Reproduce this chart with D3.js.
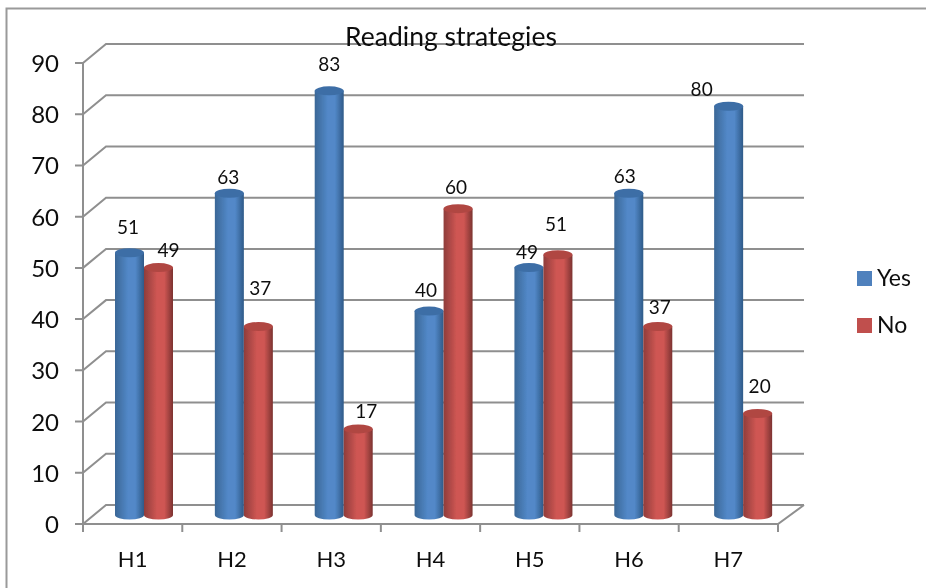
<!DOCTYPE html>
<html>
<head>
<meta charset="utf-8">
<script src="https://cdn.jsdelivr.net/npm/d3@7"></script>
<style>
    html, body { margin: 0; padding: 0; background: #fff; }
    svg { display: block; }
    text { font-family: Lato, "Open Sans", sans-serif; fill: #111; }
</style>
</head>
<body>
<div id="chart"></div>
<script>
'use strict';

var categories = ['H1', 'H2', 'H3', 'H4', 'H5', 'H6', 'H7'];
// printed labels
var yesLabels = [51, 63, 83, 40, 49, 63, 80];
var noLabels = [49, 37, 17, 60, 51, 37, 20];
// bar heights, the 49s sit a little lower than printed
var yesValues = [51.4, 63, 83, 40, 48.5, 63, 80];
var noValues = [48.5, 37, 17, 60, 51, 37, 20];
var yTicks = [0, 10, 20, 30, 40, 50, 60, 70, 80, 90];

// hand placed labels in the original, so nudge each one from its bar top
var yesLabelNudge = [[-1.5, -25], [-1, -15], [0, -26], [-3, -20], [-2, -15], [-4, -16], [-27, -16]];
var noLabelNudge = [[10, -17], [2, -37], [8, -17], [-2, -21], [-2, -30], [2, -18], [2, -27]];

var width = 926;
var height = 588;
var depthX = 23;
var depthY = 19;
var barWidth = 29;
var ry = 4.5;

var svg = d3.select('#chart')
    .append('svg')
    .attr('width', width)
    .attr('height', height);

var defs = svg.append('defs');
addGradient('yesGrad', '#3a6796', '#5288c8', '#2f5a88');
addGradient('noGrad', '#8f3d3b', '#cf5653', '#7c3331');

defs.append('filter')
    .attr('id', 'soft')
    .append('feGaussianBlur')
    .attr('stdDeviation', 0.4);

function addGradient(id, edge, mid, dark) {
    var g = defs.append('linearGradient').attr('id', id);
    g.append('stop').attr('offset', '0%').attr('stop-color', edge);
    g.append('stop').attr('offset', '45%').attr('stop-color', mid);
    g.append('stop').attr('offset', '70%').attr('stop-color', mid);
    g.append('stop').attr('offset', '100%').attr('stop-color', dark);
}

var x = d3.scaleBand().domain(categories).range([83, 778]);
// bars run on a slightly wider step than the axis ticks
var xBars = d3.scaleBand().domain(categories).range([83, 782]);
var y = d3.scaleLinear().domain([0, 90]).range([524, 63]);

var root = svg.append('g').attr('filter', 'url(#soft)');

// outer frame, only top and left show in the crop
root.append('path')
    .attr('d', 'M6.5,588V8.5H926')
    .attr('fill', 'none')
    .attr('stroke', '#9a9a9a')
    .attr('stroke-width', 2);

var gridColor = '#8f8f8f';
var grid = root.append('g')
    .attr('fill', 'none')
    .attr('stroke', gridColor)
    .attr('stroke-width', 2);

grid.selectAll('.wall')
    .data(yTicks)
    .enter()
    .append('path')
    .attr('class', 'wall')
    .attr('d', function(d) {
        return 'M75,' + y(d) + 'H83L' + (83 + depthX) + ',' + (y(d) - depthY) + 'H804';
    });

// y axis and floor
grid.append('path').attr('d', 'M83,' + y(90) + 'V' + y(0) + 'H778L804,' + (y(0) - depthY));

grid.selectAll('.tick')
    .data(categories.concat(['end']))
    .enter()
    .append('path')
    .attr('class', 'tick')
    .attr('d', function(d, i) {
        var px = 83 + i * x.bandwidth();
        return 'M' + px + ',' + y(0) + 'V' + (y(0) + 8);
    });

root.selectAll('.ylabel')
    .data(yTicks)
    .enter()
    .append('text')
    .attr('class', 'ylabel')
    .attr('x', 59)
    .attr('y', function(d) { return y(d) + 9; })
    .attr('text-anchor', 'end')
    .attr('font-size', 24)
    .text(function(d) { return d; });

root.selectAll('.xlabel')
    .data(categories)
    .enter()
    .append('text')
    .attr('class', 'xlabel')
    .attr('x', function(d) { return x(d) + x.bandwidth() / 2; })
    .attr('y', 567)
    .attr('text-anchor', 'middle')
    .attr('font-size', 22)
    .text(function(d) { return d; });

root.append('text')
    .attr('x', 451)
    .attr('y', 46)
    .attr('text-anchor', 'middle')
    .attr('font-size', 26.5)
    .text('Reading strategies');

drawSeries(yesValues, yesLabels, 0, 'yesGrad', '#3d6ea6', yesLabelNudge);
drawSeries(noValues, noLabels, 1, 'noGrad', '#b04643', noLabelNudge);

function drawSeries(values, labels, offset, grad, topColor, nudge) {
    var bars = root.selectAll('.bar' + offset)
        .data(values)
        .enter()
        .append('g')
        .attr('class', 'bar' + offset);

    function left(i) { return xBars(categories[i]) + 32 + offset * barWidth; }
    var baseY = y(0) - 9;
    function topY(d) { return y(d) - 8; }

    bars.append('path')
        .attr('fill', 'url(#' + grad + ')')
        .attr('d', function(d, i) {
            var r = barWidth / 2;
            return 'M' + left(i) + ',' + topY(d) +
                'V' + baseY +
                'A' + r + ',' + ry + ' 0 0 0 ' + (left(i) + barWidth) + ',' + baseY +
                'V' + topY(d) + 'Z';
        });

    bars.append('ellipse')
        .attr('cx', function(d, i) { return left(i) + barWidth / 2; })
        .attr('cy', function(d) { return topY(d); })
        .attr('rx', barWidth / 2)
        .attr('ry', ry)
        .attr('fill', topColor);

    bars.append('text')
        .attr('x', function(d, i) { return left(i) + barWidth / 2 + nudge[i][0]; })
        .attr('y', function(d, i) { return topY(d) + nudge[i][1] + 6; })
        .attr('text-anchor', 'middle')
        .attr('font-size', 19)
        .text(function(d, i) { return labels[i]; });
}

// legend
var legend = root.selectAll('.legend')
    .data([['Yes', '#4f81bd'], ['No', '#c0504d']])
    .enter()
    .append('g')
    .attr('class', 'legend')
    .attr('transform', function(d, i) { return 'translate(857,' + (271 + i * 47) + ')'; });

legend.append('rect')
    .attr('width', 15)
    .attr('height', 15)
    .attr('fill', function(d) { return d[1]; });

legend.append('text')
    .attr('x', 20)
    .attr('y', 15)
    .attr('font-size', 23)
    .text(function(d) { return d[0]; });
</script>
</body>
</html>
